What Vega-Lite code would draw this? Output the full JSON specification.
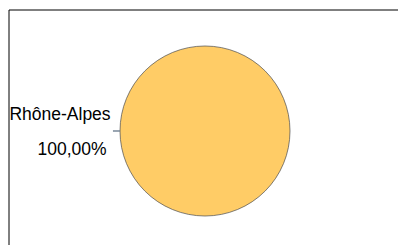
{
  "$schema": "https://vega.github.io/schema/vega-lite/v6.json",
  "autosize": {"type": "none"},
  "width": 393,
  "height": 243,
  "padding": {"left": 8.5, "top": 9.5, "right": -3.5, "bottom": -7.5},
  "background": "white",
  "view": {"stroke": "black", "strokeWidth": 1, "fill": null},
  "data": {"values": [{"region": "Rhône-Alpes", "share": 100, "label": "100,00%"}]},
  "encoding": {
    "theta": {"field": "share", "type": "quantitative", "stack": true, "scale": {"range": [1.5708, 7.854]}}
  },
  "layer": [
    {
      "mark": {"type": "arc", "outerRadius": 85, "fill": "#FFCC66", "stroke": "#4a4a4a", "strokeWidth": 0.7}
    },
    {
      "mark": {"type": "arc", "theta": 4.7114, "theta2": 4.7134, "radius": 85, "radius2": 92, "fill": null, "stroke": "#7a8a9a", "strokeWidth": 1},
      "encoding": {"theta": null}
    },
    {
      "mark": {"type": "text", "radius": 145, "dy": -16, "font": "Liberation Sans", "fontSize": 17.5, "color": "#000", "align": "center", "baseline": "middle"},
      "encoding": {"text": {"field": "region"}}
    },
    {
      "mark": {"type": "text", "radius": 145, "dx": 12, "dy": 19, "font": "Liberation Sans", "fontSize": 17.5, "color": "#000", "align": "center", "baseline": "middle"},
      "encoding": {"text": {"field": "label"}}
    }
  ]
}
